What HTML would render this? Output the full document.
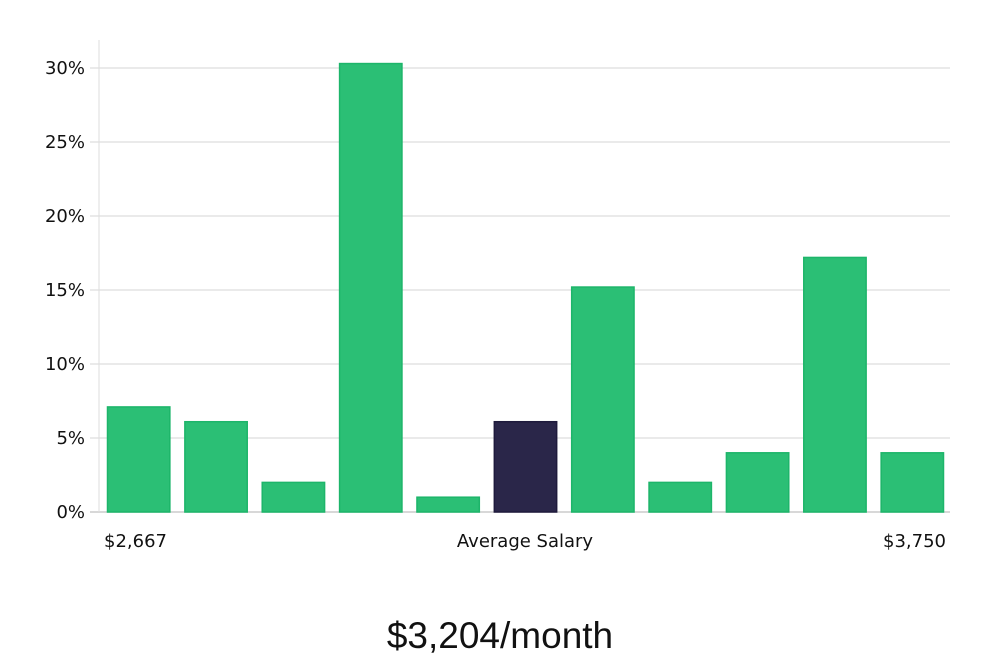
<!DOCTYPE html>
<html><head><meta charset="utf-8"><style>
html,body{margin:0;padding:0;background:#fff;width:1000px;height:660px;overflow:hidden}
svg{display:block}
text{font-family:"DejaVu Sans","Liberation Sans",sans-serif;fill:#111}
</style></head><body>
<svg id="chart" width="1000" height="660" viewBox="0 0 1000 660"></svg>
<script>
const categories=["b1","b2","b3","b4","b5","b6","b7","b8","b9","b10","b11"];
const values=[7.1,6.1,2.0,30.3,1.0,6.1,15.2,2.0,4.0,17.2,4.0];
const highlightIndex=5;
const yTicks=[0,5,10,15,20,25,30];
const yTickLabels=["0%","5%","10%","15%","20%","25%","30%"];
const xLabels=["$2,667","Average Salary","$3,750"];
const title="$3,204/month";

const svg=document.getElementById('chart');
const NS="http://www.w3.org/2000/svg";
const L=99,R=950,T=40,B=512;
function y(v){return B-v*14.8;}
const band=(R-L)/categories.length;
function x(i){return L+i*band;}
function mk(tag,attrs,parent){const e=document.createElementNS(NS,tag);for(const k in attrs)e.setAttribute(k,attrs[k]);(parent||svg).appendChild(e);return e;}

yTicks.forEach((t,i)=>{
  const g=mk('line',{x1:90,x2:R,y1:y(t),y2:y(t),stroke:t===0?'#ccc':'#e3e3e3','stroke-width':1.5});
  
  
  const tx=mk('text',{x:85,y:y(t)+6,'text-anchor':'end','font-size':18});
  tx.textContent=yTickLabels[i];
  
  
});
const ax=mk('line',{x1:L,x2:L,y1:T,y2:B,stroke:'#ddd','stroke-width':1});



values.forEach((v,i)=>{
  const hi=i===highlightIndex;
  const r=mk('rect',{x:x(i)+8.5,y:y(v),width:band-15,height:B-y(v),fill:hi?'#2a2649':'#2bbf75',stroke:hi?'#1e1a3c':'#1db56a','stroke-width':1.5});
  
  
});

const xl=[[104,'start'],[525,'middle'],[946,'end']];
xLabels.forEach((s,i)=>{
  const t=mk('text',{x:xl[i][0],y:547,'text-anchor':xl[i][1],'font-size':18});
  t.textContent=s;
  
  
});
const tt=mk('text',{x:500,y:648,'text-anchor':'middle','font-size':37,style:'font-family:"Liberation Sans",sans-serif;font-weight:300'});
tt.textContent=title;


</script>
</body></html>
